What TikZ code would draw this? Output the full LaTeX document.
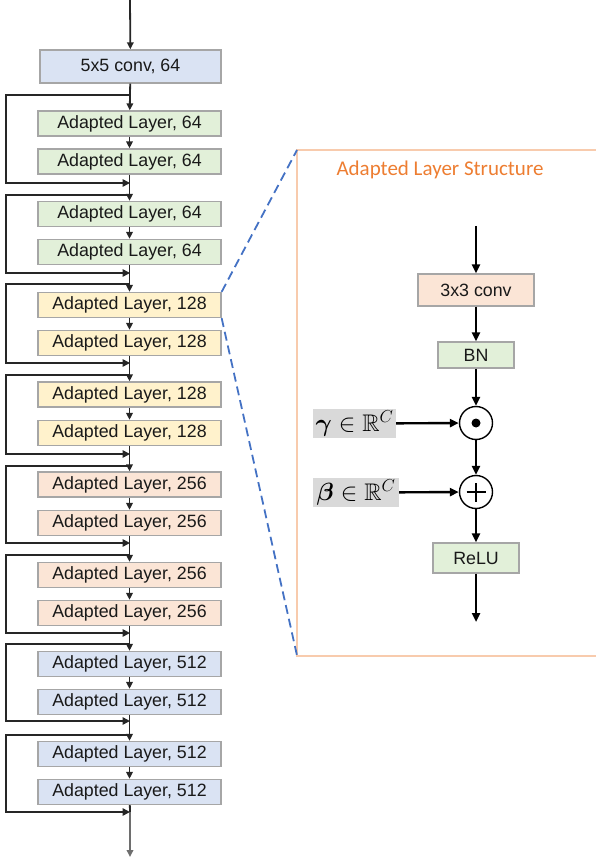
\documentclass[tikz,border=0pt]{standalone}
\usepackage{amsmath,amssymb,bm}
\usepackage{fontspec}
\setsansfont{Liberation Sans}
\newfontfamily\titlefont{Carlito}
\usetikzlibrary{arrows.meta}
\definecolor{bxblue}{HTML}{DAE3F3}
\definecolor{bxgreen}{HTML}{E2F0D9}
\definecolor{bxyellow}{HTML}{FFF2CC}
\definecolor{bxpeach}{HTML}{FBE5D6}
\definecolor{bxborder}{HTML}{A6A6A6}
\definecolor{dashblue}{HTML}{4472C4}
\definecolor{titleorange}{HTML}{ED7D31}
\definecolor{panelborder}{HTML}{F8CBAD}
\definecolor{labelgray}{HTML}{D9D9D9}
\definecolor{outgray}{HTML}{6E6E6E}
\begin{document}
\begin{tikzpicture}[x=1pt,y=-1pt,
  layerbox/.style={draw=bxborder, line width=1.3pt, minimum width=183pt, minimum height=25pt,
    inner sep=0pt, font=\sffamily\fontsize{17.8}{19}\selectfont, text=black!90},
  mainarr/.style={-{Triangle[length=7pt,width=6.5pt]}, line width=1.8pt, black!85},
  skiparr/.style={-{Triangle[length=7.5pt,width=7.5pt]}, line width=1.6pt, black!85},
  panelarr/.style={-{Triangle[length=9pt,width=8pt]}, line width=2.4pt, black},
  opcircle/.style={circle, draw=black, line width=1.4pt, minimum size=33pt, inner sep=0pt},
  glabel/.style={fill=labelgray, inner sep=0pt, minimum height=29pt, font=\fontsize{24}{26}\selectfont},
  dashline/.style={dashed, dash pattern=on 9pt off 5pt, line width=1.8pt, dashblue}
]
\useasboundingbox (0,0) rectangle (596,858);

% ---------------- main column ----------------
\coordinate (in) at (130,0);
\node[layerbox, fill=bxblue, minimum width=181pt, minimum height=33pt] (c0) at (130.5,66.5) {5x5 conv, 64};

\node[layerbox, fill=bxgreen] (L1) at (129.5,123.5) {Adapted Layer, 64};
\node[layerbox, fill=bxgreen] (L2) at (129.5,161.5) {Adapted Layer, 64};
\node[layerbox, fill=bxgreen] (L3) at (129.5,214) {Adapted Layer, 64};
\node[layerbox, fill=bxgreen] (L4) at (129.5,252) {Adapted Layer, 64};
\node[layerbox, fill=bxyellow] (L5) at (129.5,305) {Adapted Layer, 128};
\node[layerbox, fill=bxyellow] (L6) at (129.5,343) {Adapted Layer, 128};
\node[layerbox, fill=bxyellow] (L7) at (129.5,394.5) {Adapted Layer, 128};
\node[layerbox, fill=bxyellow] (L8) at (129.5,433) {Adapted Layer, 128};
\node[layerbox, fill=bxpeach] (L9) at (129.5,484.5) {Adapted Layer, 256};
\node[layerbox, fill=bxpeach] (L10) at (129.5,523) {Adapted Layer, 256};
\node[layerbox, fill=bxpeach] (L11) at (129.5,575) {Adapted Layer, 256};
\node[layerbox, fill=bxpeach] (L12) at (129.5,613) {Adapted Layer, 256};
\node[layerbox, fill=bxblue] (L13) at (129.5,664) {Adapted Layer, 512};
\node[layerbox, fill=bxblue] (L14) at (129.5,702) {Adapted Layer, 512};
\node[layerbox, fill=bxblue] (L15) at (129.5,754) {Adapted Layer, 512};
\node[layerbox, fill=bxblue] (L16) at (129.5,792) {Adapted Layer, 512};
\coordinate (out) at (130,857);

% skip start / return points
\foreach \k/\s/\r in {1/95/183, 2/195/273, 3/284/363, 4/375/454, 5/466/543, 6/555/633, 7/644/721, 8/735/812} {
  \coordinate (s\k) at (130,\s);
  \coordinate (r\k) at (130,\r);
}

% main line
\draw[mainarr] (in) -- (c0);
\draw[mainarr] (c0) -- (L1);
\foreach \a/\b in {L1/L2, L2/L3, L3/L4, L4/L5, L5/L6, L6/L7, L7/L8, L8/L9, L9/L10, L10/L11, L11/L12, L12/L13, L13/L14, L14/L15, L15/L16} {
  \draw[mainarr] (\a) -- (\b);
}
\draw[line width=1.8pt, black!85] (L16) -- (r8);
\draw[mainarr, outgray] (r8) -- (out);

% skip connections
\foreach \k in {1,...,8} {
  \draw[skiparr] (s\k) -- ++(-124,0) |- (r\k);
}

% ---------------- detail panel ----------------
\coordinate (pTL) at (297,150);
\coordinate (pBL) at (297,655.5);
\draw[panelborder, line width=2pt] (597,150) -- (pTL) -- (pBL) -- (597,655.5);

\draw[dashline] (L5.north east) -- (pTL);
\draw[dashline] (L5.south east) -- (pBL);

\node[font=\titlefont\fontsize{21}{24}\selectfont, text=titleorange, anchor=west] (title) at (333,169.5) {Adapted Layer Structure};

\coordinate (pin) at (476,226);
\node[layerbox, fill=bxpeach, minimum width=116pt, minimum height=32pt] (conv3) at (476,290) {3x3 conv};
\node[layerbox, fill=bxgreen, minimum width=76pt, minimum height=26pt] (bn) at (476,355) {BN};
\node[opcircle] (mul) at (476,423) {};
\fill (mul.center) circle (4.5pt);
\node[opcircle] (add) at (476,492) {};
\draw[line width=1.4pt] ([xshift=-9.5pt]add.center) -- ([xshift=9.5pt]add.center);
\draw[line width=1.4pt] ([yshift=-9.5pt]add.center) -- ([yshift=9.5pt]add.center);
\node[layerbox, fill=bxgreen, minimum width=86pt, minimum height=30pt] (relu) at (476,558) {ReLU};
\coordinate (pout) at (476,622);

\node[glabel, minimum width=83pt] (gam) at (354.5,423.5) {$\bm{\gamma}\in\mathbb{R}^{C}$};
\node[glabel, minimum width=86pt] (bet) at (356,492.5) {$\bm{\beta}\in\mathbb{R}^{C}$};

\draw[panelarr] (pin) -- (conv3);
\draw[panelarr] (conv3) -- (bn);
\draw[panelarr] (bn) -- (mul);
\draw[panelarr] (mul) -- (add);
\draw[panelarr] (add) -- (relu);
\draw[panelarr] (relu) -- (pout);
\draw[panelarr] (gam) -- (mul);
\draw[panelarr] (bet) -- (add);
\end{tikzpicture}
\end{document}
